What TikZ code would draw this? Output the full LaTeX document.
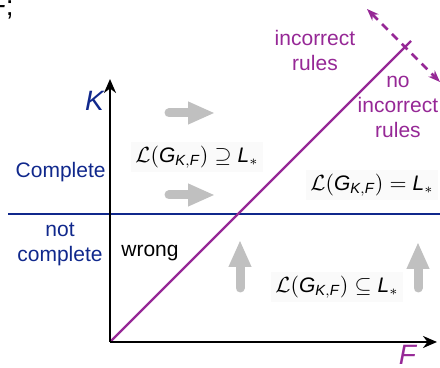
\documentclass[tikz,border=0pt]{standalone}
\usepackage{amsmath,amssymb}
\usepackage{fontspec}
\setmainfont{Liberation Sans}
\definecolor{kblue}{RGB}{16,40,140}
\definecolor{rulepurple}{RGB}{150,40,150}
\definecolor{hintgray}{RGB}{192,192,192}
\usetikzlibrary{arrows.meta,positioning}
\newcommand{\lang}{\mathcal{L}(\textit{G}_{\textit{K},\textit{F}})}
\newcommand{\lstar}{\textit{L}_{*}}

\begin{document}
\begin{tikzpicture}[x=0.5pt, y=-0.5pt,
        txt/.style={font=\fontsize{10.5}{12.5}\selectfont, align=center, inner sep=1pt},
        formula/.style={txt, fill=gray!4, inner sep=2pt},
        axis/.style={-{Stealth[length=7pt, width=6pt]}, line width=1.2pt, black},
        diag/.style={line width=1.1pt, rulepurple},
        hint/.style={-{Triangle[length=13.5pt, width=10.5pt]}, line width=4.5pt, hintgray, line cap=round}
      ]
        \useasboundingbox (0,0) rectangle (440,368);
        \node[txt, font=\fontsize{14}{16}\selectfont, anchor=east] (top) at (16,8) {$\textit{F}$;};

        \coordinate (o) at (110,342);
        \coordinate (ytip) at (110,79);
        \coordinate (xtip) at (437,342);
        \coordinate (bl) at (8,214);
        \coordinate (br) at (440,214);
        \coordinate (dtop) at (411,41);
        \coordinate (da) at (367,9);
        \coordinate (db) at (440,82);

        \draw[kblue, line width=1.3pt] (bl) -- (br);
        \draw[diag] (o) -- (dtop);
        \draw[rulepurple, line width=1.3pt, dashed, dash pattern=on 4pt off 3pt, {Stealth[length=6pt]}-{Stealth[length=6pt]}] (da) -- (db);
        \draw[axis] (o) -- (ytip);
        \draw[axis] (o) -- (xtip);

        \node[txt, kblue, font=\fontsize{14}{16}\selectfont] (klab) at (95,101) {\textit{K}};
        \node[txt, rulepurple, font=\fontsize{14}{16}\selectfont] (flab) at (408,355) {\textit{F}};

        \node[txt, kblue, anchor=east] (compl) at (108,172) {Complete};
        \node[txt, kblue] (notcompl) at (60,244) {not\\complete};
        \node[txt] (wrong) at (150,253) {wrong};
        \node[txt, rulepurple] (incorr) at (315,50) {incorrect\\rules};
        \node[txt, rulepurple] (noincorr) at (398,107) {no\\incorrect\\rules};

        \node[formula] (sup) at (197,157) {$\lang \supseteq \lstar$};
        \node[formula] (eq) at (372,185) {$\lang = \lstar$};
        \node[formula] (sub) at (337,287) {$\lang \subseteq \lstar$};

        \coordinate (r1a) at (169,113);
        \coordinate (r1b) at (215,113);
        \coordinate (r2a) at (169,195);
        \coordinate (r2b) at (215,195);
        \coordinate (u1a) at (240,288);
        \coordinate (u1b) at (240,240);
        \coordinate (u2a) at (418,288);
        \coordinate (u2b) at (418,242);
        \draw[hint] (r1a) -- (r1b);
        \draw[hint] (r2a) -- (r2b);
        \draw[hint] (u1a) -- (u1b);
        \draw[hint] (u2a) -- (u2b);
      \end{tikzpicture}
\end{document}
